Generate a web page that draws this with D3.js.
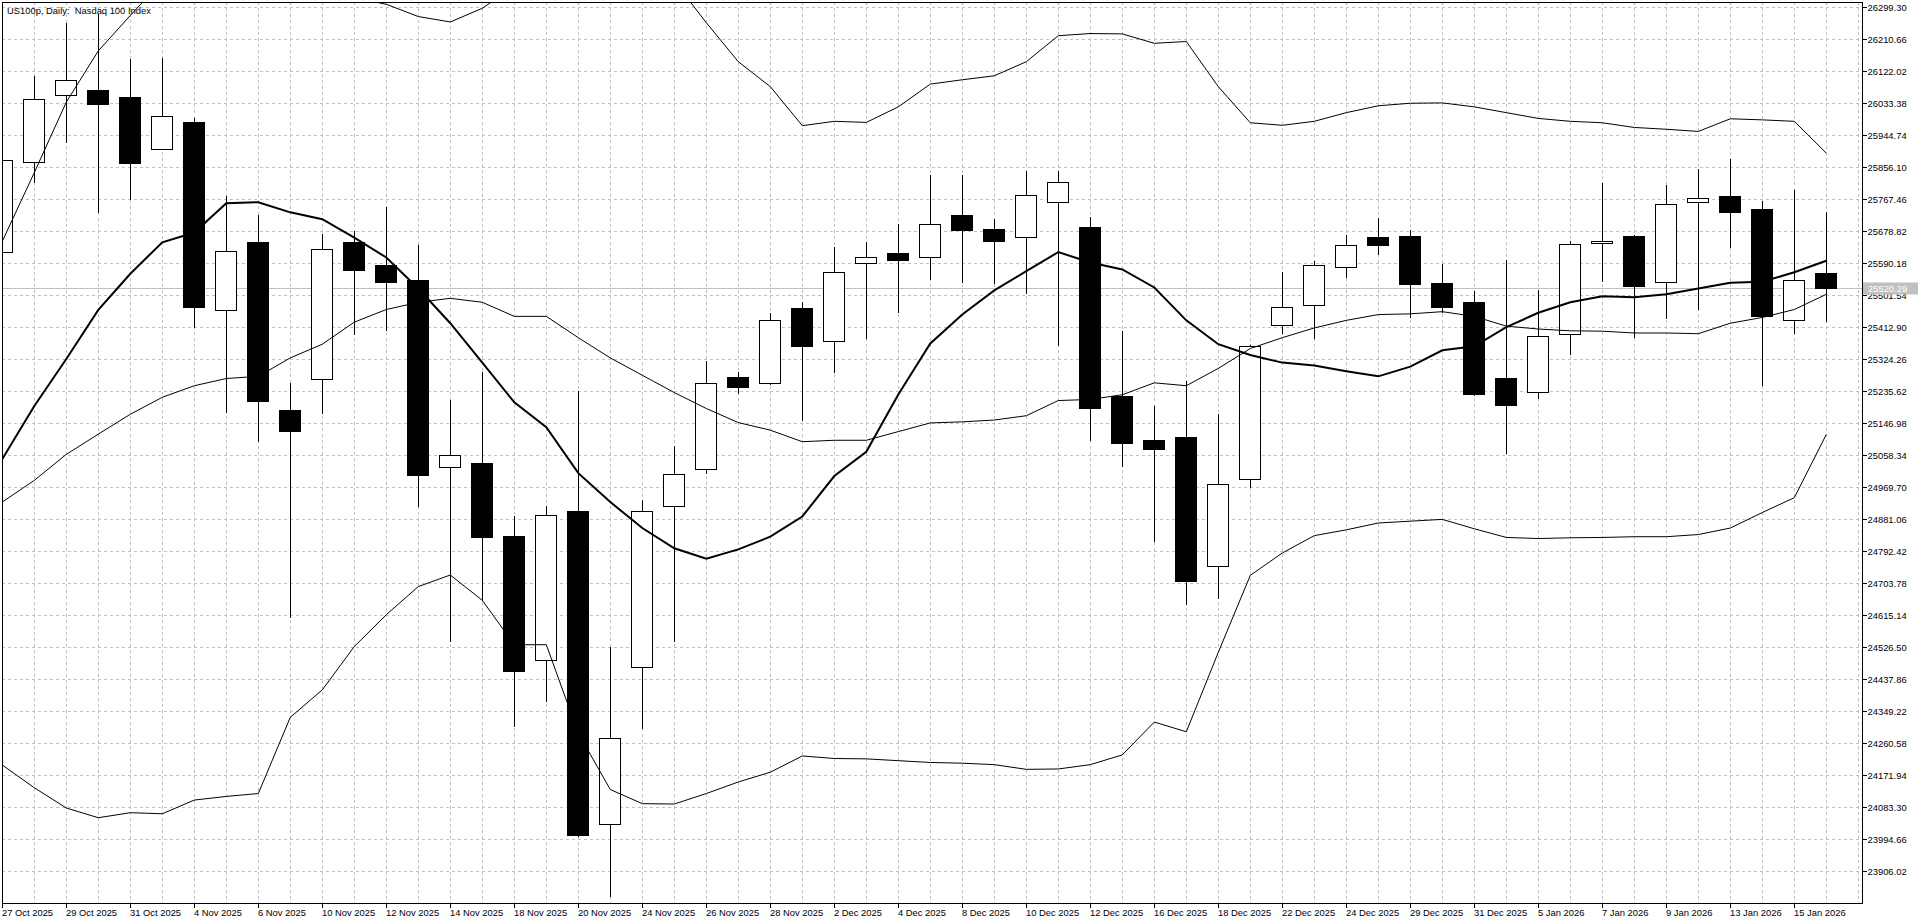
<!DOCTYPE html>
<html><head><meta charset="utf-8">
<script src="https://cdn.jsdelivr.net/npm/d3@7/dist/d3.min.js"></script>
<style>
html,body{margin:0;padding:0;background:#fff;overflow:hidden}
svg{display:block}
text{font-family:"Liberation Sans",Arial,sans-serif;font-size:9.4px;fill:#000}
</style>
</head><body>
<svg id="chart" width="1920" height="923"></svg>
<script>
const title = "US100p, Daily:\u00a0\u00a0Nasdaq 100 Index";
const dates = ["27 Oct 2025","28 Oct 2025","29 Oct 2025","30 Oct 2025","31 Oct 2025","3 Nov 2025","4 Nov 2025","5 Nov 2025","6 Nov 2025","7 Nov 2025",
"10 Nov 2025","11 Nov 2025","12 Nov 2025","13 Nov 2025","14 Nov 2025","17 Nov 2025","18 Nov 2025","19 Nov 2025","20 Nov 2025","21 Nov 2025",
"24 Nov 2025","25 Nov 2025","26 Nov 2025","27 Nov 2025","28 Nov 2025","1 Dec 2025","2 Dec 2025","3 Dec 2025","4 Dec 2025","5 Dec 2025",
"8 Dec 2025","9 Dec 2025","10 Dec 2025","11 Dec 2025","12 Dec 2025","15 Dec 2025","16 Dec 2025","17 Dec 2025","18 Dec 2025","19 Dec 2025",
"22 Dec 2025","23 Dec 2025","24 Dec 2025","26 Dec 2025","29 Dec 2025","30 Dec 2025","31 Dec 2025","2 Jan 2026","5 Jan 2026","6 Jan 2026",
"7 Jan 2026","8 Jan 2026","9 Jan 2026","12 Jan 2026","13 Jan 2026","14 Jan 2026","15 Jan 2026","16 Jan 2026"];
const open  = [25620,25869,26054,26070,26049,25906,25981,25461,25647,25183,25268,25647,25584,25544,25025,25036,24835,24490,24904,24036,
24471,24916,25020,25273,25257,25466,25373,25589,25618,25605,25723,25685,25663,25759,25690,25222,25099,25107,24750,24992,
25418,25474,25578,25663,25664,25535,25482,25271,25234,25394,25644,25664,25538,25760,25775,25739,25433,25562];
const high  = [25900,26107,26254,26278,26155,26158,25990,25775,25722,25257,25671,25679,25746,25639,25210,25287,24888,24918,25236,24528,
24934,25083,25319,25287,25450,25482,25634,25648,25698,25834,25834,25712,25845,25845,25717,25402,25194,25263,25171,25362,
25564,25596,25667,25715,25682,25588,25511,25599,25516,25650,25811,25666,25807,25850,25878,25762,25792,25731];
const low   = [25600,25813,25926,25731,25768,25904,25412,25177,25097,24611,25175,25394,25404,24916,24543,24656,24309,24378,24004,23836,
24303,24544,25008,25231,25255,25155,25287,25383,25455,25546,25538,25535,25506,25362,25100,25027,24821,24645,24661,24971,
25396,25381,25551,25615,25439,25455,25223,25063,25215,25337,25540,25386,25437,25463,25634,25252,25397,25429];
const close = [25874,26045,26097,26029,25866,25998,25469,25624,25209,25126,25628,25570,25538,25004,25057,24830,24459,24891,24006,24276,
24902,25006,25258,25247,25431,25359,25565,25607,25597,25699,25680,25652,25779,25815,25187,25092,25076,24709,24979,25359,
25469,25583,25639,25639,25533,25469,25228,25196,25388,25642,25650,25527,25754,25771,25730,25442,25544,25520.29];
const maLine = [25047,25194,25324,25460,25560,25647,25674,25755,25758,25730,25711,25660,25605,25519,25423,25314,25204,25135,25008,24928,
24856,24800,24771,24797,24832,24888,25000,25067,25226,25367,25447,25514,25567,25620,25591,25572,25522,25431,25365,25335,
25314,25306,25290,25276,25303,25348,25359,25412,25452,25481,25498,25495,25503,25519,25535,25538,25564,25596];
const bandUpper = [25650,25840,26035,26177,26275,26371,26397,26427,26431,26322,26322,26324,26306,26272,26257,26295,26355,26351,26478,26522,
26465,26370,26255,26147,26078,25970,25982,25979,26022,26085,26097,26108,26147,26219,26225,26224,26198,26203,26078,25978,
25971,25982,26006,26025,26032,26033,26022,26006,25990,25982,25978,25965,25960,25954,25989,25986,25982,25894];
const bandMiddle = [24928,24988,25060,25116,25171,25218,25250,25270,25276,25327,25365,25426,25461,25481,25492,25481,25442,25442,25383,25327,
25279,25231,25187,25148,25127,25095,25099,25099,25123,25147,25150,25155,25167,25209,25212,25225,25258,25250,25298,25353,
25383,25410,25431,25447,25449,25455,25442,25415,25407,25402,25401,25396,25396,25394,25423,25439,25461,25503];
const bandLower = [24200,24137,24081,24054,24068,24065,24103,24113,24121,24332,24408,24528,24616,24694,24726,24656,24533,24533,24288,24132,
24093,24092,24121,24153,24180,24225,24218,24217,24212,24207,24205,24201,24188,24189,24201,24228,24319,24292,24512,24725,
24787,24835,24851,24870,24875,24880,24854,24830,24827,24829,24830,24832,24832,24838,24856,24899,24940,25115];
const priceTicks = [26299.30,26210.66,26122.02,26033.38,25944.74,25856.10,25767.46,25678.82,25590.18,25501.54,25412.90,25324.26,25235.62,25146.98,
25058.34,24969.70,24881.06,24792.42,24703.78,24615.14,24526.50,24437.86,24349.22,24260.58,24171.94,24083.30,23994.66,23906.02];
const currentPrice = 25520.29;

(function () {
const W = 1920, H = 923;
const pL = 2, pT = 2, pR = 1862, pB = 903;
const svg = d3.select("#chart");

const x = d3.scaleLinear().domain([0, 57]).range([2.3, 1826.3]);
const y = d3.scaleLinear().domain([23906.02, 26299.30]).range([871.2, 6.7]);
const px = i => Math.round(x(i));
const py = v => Math.round(y(v));

svg.append("defs").append("clipPath").attr("id", "plot")
  .append("rect").attr("x", pL + 1).attr("y", pT + 1).attr("width", pR - pL - 1).attr("height", pB - pT - 1);

svg.append("rect").attr("width", W).attr("height", H).attr("fill", "#fff");

const plot = svg.append("g").attr("clip-path", "url(#plot)");

// grid
const grid = plot.append("g").attr("stroke", "#c0c0c0").attr("stroke-width", 1)
  .attr("stroke-dasharray", "3,3").attr("shape-rendering", "crispEdges");
grid.selectAll("line.h").data(priceTicks).join("line").attr("class", "h")
  .attr("x1", pL).attr("x2", pR).attr("y1", d => py(d) + 0.5).attr("y2", d => py(d) + 0.5);
grid.selectAll("line.v").data(d3.range(0, 59)).join("line").attr("class", "v")
  .attr("x1", d => px(d) + 0.5).attr("x2", d => px(d) + 0.5).attr("y1", pT).attr("y2", pB);

// current price line
plot.append("line").attr("x1", pL).attr("x2", pR)
  .attr("y1", py(currentPrice) + 0.5).attr("y2", py(currentPrice) + 0.5)
  .attr("stroke", "#c0c0c0").attr("shape-rendering", "crispEdges");

// candles
const idx = d3.range(dates.length);
const candles = plot.append("g").attr("shape-rendering", "crispEdges");
candles.selectAll("line.wick").data(idx).join("line").attr("class", "wick")
  .attr("x1", i => px(i) + 0.5).attr("x2", i => px(i) + 0.5)
  .attr("y1", i => py(high[i])).attr("y2", i => py(low[i]) + 1)
  .attr("stroke", "#000");
candles.selectAll("rect.body").data(idx).join("rect").attr("class", "body")
  .attr("x", i => px(i) - 10.5)
  .attr("width", 21)
  .attr("y", i => py(Math.max(open[i], close[i])) + 0.5)
  .attr("height", i => Math.max(1, py(Math.min(open[i], close[i])) - py(Math.max(open[i], close[i]))))
  .attr("fill", i => close[i] >= open[i] ? "#fff" : "#000")
  .attr("stroke", "#000");

// indicator lines
const line = arr => d3.line().x((d, i) => x(i)).y(d => y(d))(arr);
const lines = plot.append("g").attr("fill", "none").attr("stroke", "#000");
lines.append("path").attr("d", line(bandUpper)).attr("stroke-width", 1);
lines.append("path").attr("d", line(bandMiddle)).attr("stroke-width", 1);
lines.append("path").attr("d", line(bandLower)).attr("stroke-width", 1);
lines.append("path").attr("d", line(maLine)).attr("stroke-width", 2);

// frame
svg.append("path")
  .attr("d", `M${pR + 0.5},${pB + 0.5}H${pL + 0.5}V${pT + 0.5}H${pR + 0.5}`)
  .attr("fill", "none").attr("stroke", "#000").attr("shape-rendering", "crispEdges");

// right axis
const yAxis = d3.axisRight(y).tickValues(priceTicks).tickFormat(d => d.toFixed(2))
  .tickSize(4).tickSizeOuter(0).tickPadding(1);
const ya = svg.append("g").attr("transform", `translate(${pR + 0.5},0)`).call(yAxis);
ya.attr("font-family", null).attr("font-size", null);
ya.select(".domain").attr("d", `M0,${pT}V${pB + 1}`).attr("stroke", "#000").attr("shape-rendering", "crispEdges");
ya.selectAll(".tick line").attr("stroke", "#000").attr("shape-rendering", "crispEdges");
ya.selectAll(".tick").attr("transform", d => `translate(0,${py(d) + 0.5})`);
ya.selectAll(".tick text").attr("fill", "#000");

// bottom axis
const xTicks = idx.filter(i => i % 2 === 0);
const xAxis = d3.axisBottom(x).tickValues(xTicks).tickFormat(i => dates[i])
  .tickSize(4).tickSizeOuter(0).tickPadding(2);
const xa = svg.append("g").attr("transform", `translate(0,${pB + 0.5})`).call(xAxis);
xa.attr("font-family", null).attr("font-size", null);
xa.select(".domain").remove();
xa.selectAll(".tick").attr("transform", i => `translate(${px(i) + 0.5},0)`);
xa.selectAll(".tick line").attr("stroke", "#000").attr("shape-rendering", "crispEdges");
xa.selectAll(".tick text").attr("text-anchor", "start").attr("x", -0.5).attr("fill", "#000");

// current price label
const cp = svg.append("g").attr("transform", `translate(${pR + 1},${py(currentPrice) + 0.5})`);
cp.append("rect").attr("x", 0).attr("y", -6).attr("width", 55).attr("height", 12).attr("fill", "#c0c0c0");
cp.append("text").attr("x", 5).attr("dy", "0.34em").style("fill", "#fff").text(currentPrice.toFixed(2));

// title
svg.append("text").attr("x", 7).attr("y", 13.5).text(title);
})();
</script>
</body></html>
